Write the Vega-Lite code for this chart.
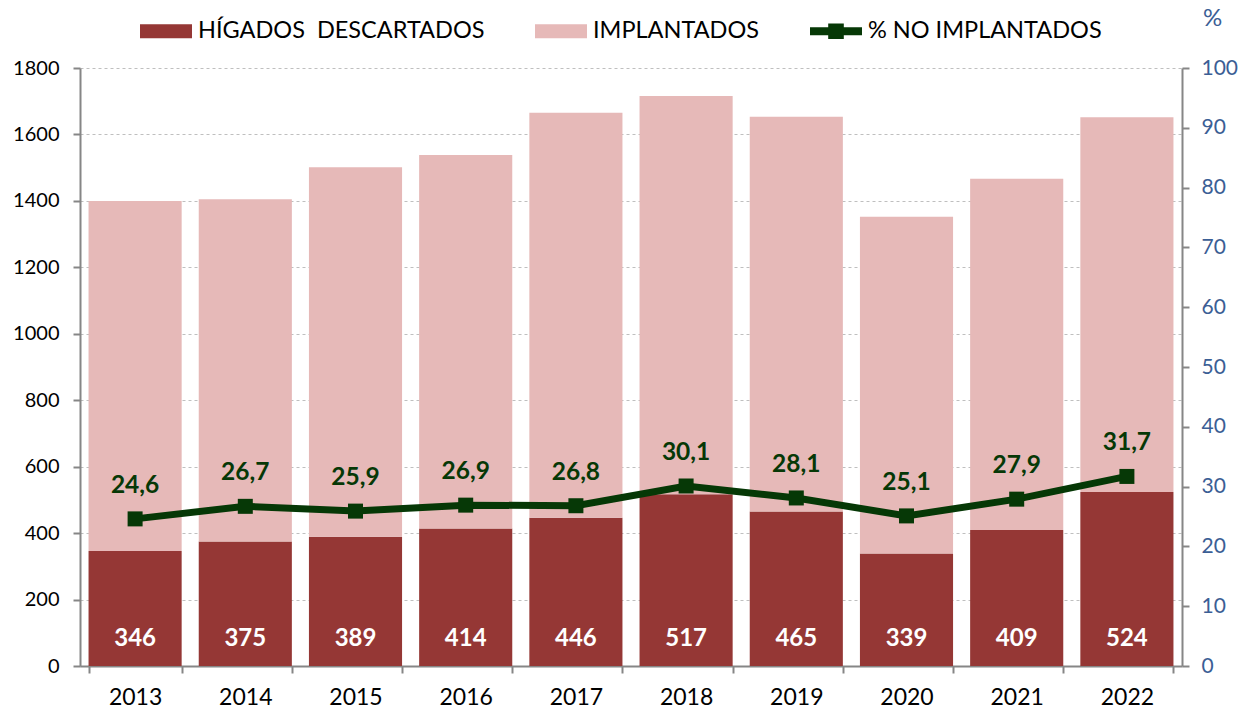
{
  "$schema": "https://vega.github.io/schema/vega-lite/v6.json",
  "autosize": "none",
  "width": 1102,
  "height": 598,
  "padding": {"left": 80, "top": 68, "right": 72, "bottom": 52},
  "background": "white",
  "config": {
    "font": "Lato",
    "view": {"stroke": null},
    "locale": {"number": {"decimal": ",", "thousands": ".", "grouping": [3], "currency": ["", " €"]}}
  },
  "datasets": {
    "bars": [
      {"year": "2013", "serie": "HÍGADOS\u00a0 DESCARTADOS", "value": 346},
      {"year": "2013", "serie": "IMPLANTADOS", "value": 1054},
      {"year": "2014", "serie": "HÍGADOS\u00a0 DESCARTADOS", "value": 375},
      {"year": "2014", "serie": "IMPLANTADOS", "value": 1030},
      {"year": "2015", "serie": "HÍGADOS\u00a0 DESCARTADOS", "value": 389},
      {"year": "2015", "serie": "IMPLANTADOS", "value": 1112},
      {"year": "2016", "serie": "HÍGADOS\u00a0 DESCARTADOS", "value": 414},
      {"year": "2016", "serie": "IMPLANTADOS", "value": 1124},
      {"year": "2017", "serie": "HÍGADOS\u00a0 DESCARTADOS", "value": 446},
      {"year": "2017", "serie": "IMPLANTADOS", "value": 1219},
      {"year": "2018", "serie": "HÍGADOS\u00a0 DESCARTADOS", "value": 517},
      {"year": "2018", "serie": "IMPLANTADOS", "value": 1199},
      {"year": "2019", "serie": "HÍGADOS\u00a0 DESCARTADOS", "value": 465},
      {"year": "2019", "serie": "IMPLANTADOS", "value": 1188},
      {"year": "2020", "serie": "HÍGADOS\u00a0 DESCARTADOS", "value": 339},
      {"year": "2020", "serie": "IMPLANTADOS", "value": 1013},
      {"year": "2021", "serie": "HÍGADOS\u00a0 DESCARTADOS", "value": 409},
      {"year": "2021", "serie": "IMPLANTADOS", "value": 1058},
      {"year": "2022", "serie": "HÍGADOS\u00a0 DESCARTADOS", "value": 524},
      {"year": "2022", "serie": "IMPLANTADOS", "value": 1128}
    ],
    "pct": [
      {"year": "2013", "pct": 24.6},
      {"year": "2014", "pct": 26.7},
      {"year": "2015", "pct": 25.9},
      {"year": "2016", "pct": 26.9},
      {"year": "2017", "pct": 26.8},
      {"year": "2018", "pct": 30.1},
      {"year": "2019", "pct": 28.1},
      {"year": "2020", "pct": 25.1},
      {"year": "2021", "pct": 27.9},
      {"year": "2022", "pct": 31.7}
    ]
  },
  "layer": [
    {
      "data": {"name": "bars"},
      "layer": [
        {
          "mark": {"type": "bar"},
          "encoding": {
            "x": {
              "field": "year", "type": "nominal", "title": null,
              "scale": {"paddingInner": 0.155, "paddingOuter": 0.0775},
              "axis": {
                "tickBand": "extent", "labelAngle": 0, "labelFontSize": 23, "labelColor": "#000000",
                "labelPadding": 13, "tickSize": 7, "tickColor": "#868686", "domainColor": "#868686",
                "domainWidth": 2, "tickWidth": 2, "grid": false
              }
            },
            "y": {
              "field": "value", "type": "quantitative", "stack": "zero", "title": null,
              "scale": {"domain": [0, 1800], "nice": false},
              "axis": {
                "values": [0, 200, 400, 600, 800, 1000, 1200, 1400, 1600, 1800], "format": "d",
                "labelFontSize": 20, "labelColor": "#000000", "labelPadding": 14, "tickSize": 7,
                "tickColor": "#868686", "domainColor": "#868686", "domainWidth": 2, "tickWidth": 2,
                "grid": true, "gridDash": [3, 3], "gridColor": "#BFBFBF", "gridWidth": 1
              }
            },
            "order": {"field": "serie", "sort": "ascending"},
            "color": {
              "field": "serie", "type": "nominal",
              "scale": {
                "domain": ["HÍGADOS\u00a0 DESCARTADOS", "IMPLANTADOS", "% NO IMPLANTADOS"],
                "range": ["#953735", "#E6B9B8", "#063806"]
              },
              "legend": {
                "title": null, "orient": "none", "direction": "horizontal",
                "legendX": 60, "legendY": -63, "padding": 0,
                "labelFontSize": 23.5, "labelColor": "#000000", "labelOffset": 6,
                "columnPadding": 50, "symbolSize": 2704, "labelLimit": 400,
                "encode": {
                  "symbols": {
                    "update": {
                      "shape": {"signal": "datum.value === '% NO IMPLANTADOS' ? 'M-1,-0.15H-0.3V-0.3H0.3V-0.15H1V0.15H0.3V0.3H-0.3V0.15H-1Z' : 'M-1,-0.27H1V0.27H-1Z'"},
                      "fill": {"scale": "color", "field": "value"},
                      "stroke": {"value": "transparent"},
                      "strokeWidth": {"value": 0},
                      "opacity": {"value": 1},
                      "size": {"value": 2704}
                    }
                  }
                }
              }
            }
          }
        },
        {
          "transform": [{"filter": "datum.serie === 'HÍGADOS\u00a0 DESCARTADOS'"}],
          "mark": {"type": "text", "color": "#FFFFFF", "fontWeight": "bold", "fontSize": 24, "baseline": "middle", "dy": -27},
          "encoding": {
            "x": {"field": "year", "type": "nominal"},
            "y": {"datum": 0, "type": "quantitative"},
            "text": {"field": "value", "type": "quantitative", "format": "d"}
          }
        }
      ]
    },
    {
      "data": {"name": "pct"},
      "layer": [
        {
          "mark": {"type": "line", "strokeWidth": 7, "point": {"shape": "square", "size": 225, "filled": true}},
          "encoding": {
            "x": {"field": "year", "type": "nominal"},
            "y": {
              "field": "pct", "type": "quantitative", "title": "%",
              "scale": {"domain": [0, 100], "nice": false},
              "axis": {
                "orient": "right", "values": [0, 10, 20, 30, 40, 50, 60, 70, 80, 90, 100],
                "labelFontSize": 21, "labelColor": "#3B5E95", "labelPadding": 12, "tickSize": 7,
                "tickColor": "#868686", "domainColor": "#868686", "domainWidth": 2, "tickWidth": 2,
                "grid": false, "titleAngle": 0, "titleX": 30, "titleY": -50, "titleAlign": "center",
                "titleBaseline": "middle", "titleFontSize": 24, "titleFontWeight": "normal", "titleColor": "#3B5E95"
              }
            },
            "color": {"datum": "% NO IMPLANTADOS"}
          }
        },
        {
          "mark": {"type": "text", "color": "#063806", "fontWeight": "bold", "fontSize": 24.5, "baseline": "middle", "dy": -33},
          "encoding": {
            "x": {"field": "year", "type": "nominal"},
            "y": {"field": "pct", "type": "quantitative"},
            "text": {"field": "pct", "type": "quantitative", "format": ".1f"}
          }
        }
      ]
    }
  ],
  "resolve": {"scale": {"y": "independent"}}
}
